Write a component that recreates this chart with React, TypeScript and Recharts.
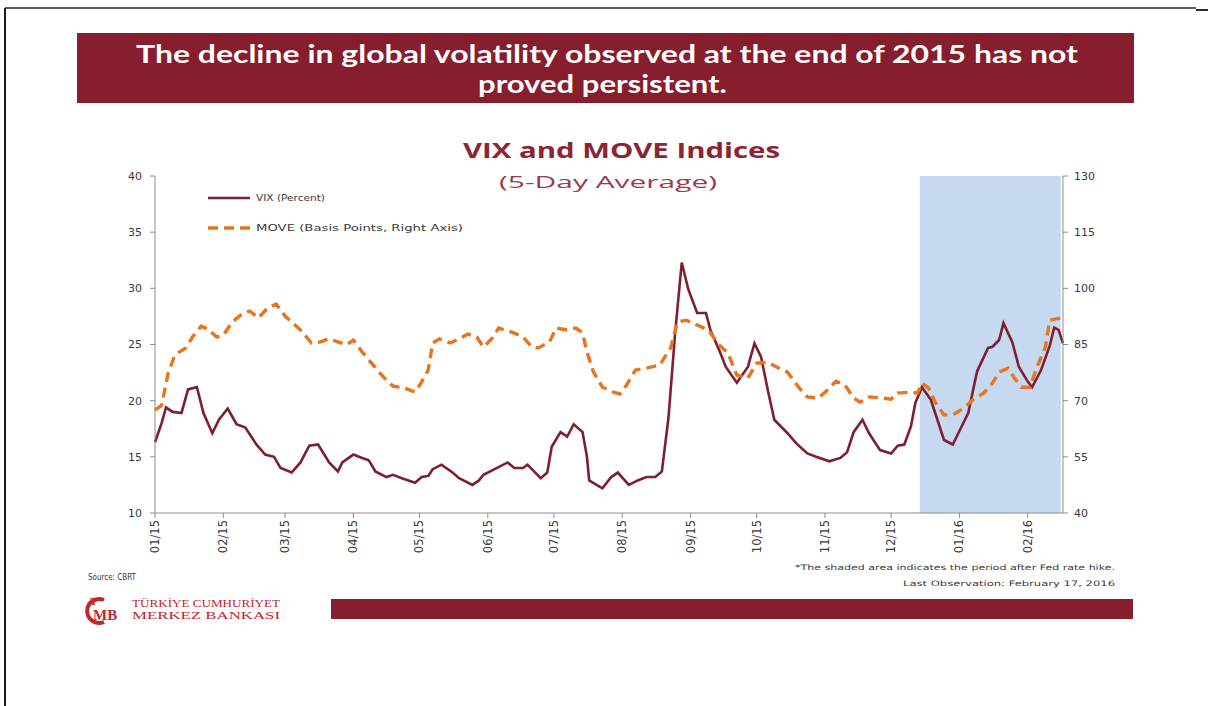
import React from "react";
import { LineChart, Line, XAxis, YAxis, ReferenceArea } from "recharts";

// Day offsets counted from 1 January 2015
const monthTicks = [0, 31, 59, 90, 120, 151, 181, 212, 243, 273, 304, 334, 365, 396];
const monthLabels = ["01/15", "02/15", "03/15", "04/15", "05/15", "06/15", "07/15", "08/15", "09/15", "10/15", "11/15", "12/15", "01/16", "02/16"];
const leftTicks = [10, 15, 20, 25, 30, 35, 40];
const rightTicks = [40, 55, 70, 85, 100, 115, 130];

const vixDay = [0, 3, 5, 8, 12, 15, 19, 22, 26, 29, 33, 37, 41, 46, 50, 54, 57, 62, 66, 70, 74, 79, 83, 85, 90, 94, 97, 100, 105, 108, 112, 118, 121, 124, 126, 130, 135, 138, 144, 147, 149, 153, 160, 163, 167, 169, 172, 175, 178, 180, 184, 187, 190, 194, 196, 197, 203, 207, 210, 215, 219, 223, 227, 230, 233, 236, 239, 242, 246, 250, 252, 256, 259, 264, 269, 272, 275, 278, 281, 287, 291, 296, 300, 306, 311, 314, 317, 321, 324, 329, 334, 337, 340, 343, 345, 348, 352, 355, 358, 362, 366, 369, 373, 378, 380, 383, 385, 389, 392, 396, 398, 402, 406, 408, 410, 412];
const vixValue = [16.3, 18.0, 19.4, 19.0, 18.9, 21.0, 21.2, 18.9, 17.1, 18.3, 19.3, 17.9, 17.6, 16.1, 15.2, 15.0, 14.0, 13.6, 14.5, 16.0, 16.1, 14.5, 13.7, 14.5, 15.2, 14.9, 14.7, 13.7, 13.2, 13.4, 13.1, 12.7, 13.2, 13.3, 13.9, 14.3, 13.6, 13.1, 12.5, 12.9, 13.4, 13.8, 14.5, 14.0, 14.0, 14.3, 13.7, 13.1, 13.6, 15.9, 17.2, 16.8, 17.9, 17.2, 15.0, 12.9, 12.2, 13.2, 13.6, 12.5, 12.9, 13.2, 13.2, 13.7, 18.5, 26.0, 32.3, 29.9, 27.8, 27.8, 26.3, 24.5, 23.0, 21.6, 23.0, 25.1, 23.9, 21.0, 18.3, 17.1, 16.2, 15.3, 15.0, 14.6, 14.9, 15.4, 17.2, 18.3, 17.1, 15.6, 15.3, 16.0, 16.1, 17.7, 19.8, 21.2, 20.1, 18.3, 16.5, 16.1, 17.7, 18.9, 22.6, 24.7, 24.8, 25.4, 26.9, 25.2, 23.0, 21.7, 21.2, 22.7, 24.9, 26.5, 26.3, 25.1];

const moveDay = [0, 3, 6, 9, 14, 17, 21, 24, 28, 31, 35, 40, 43, 47, 51, 55, 59, 62, 66, 71, 75, 79, 83, 87, 90, 94, 99, 102, 105, 108, 113, 118, 121, 124, 126, 129, 134, 138, 142, 146, 149, 153, 156, 162, 167, 171, 174, 179, 182, 187, 191, 194, 196, 199, 203, 208, 211, 214, 218, 223, 229, 234, 237, 241, 246, 251, 256, 260, 264, 269, 273, 278, 282, 287, 292, 296, 301, 305, 309, 313, 317, 320, 324, 330, 334, 337, 343, 346, 348, 351, 354, 358, 362, 367, 371, 376, 380, 383, 387, 390, 393, 397, 400, 404, 406, 411, 412];
const moveValue = [67.5, 68.8, 77.4, 82.2, 84.1, 87.0, 89.9, 89.1, 87.0, 87.5, 91.0, 93.4, 93.9, 92.1, 94.7, 95.8, 92.6, 91.0, 88.9, 85.4, 85.7, 86.5, 85.7, 84.9, 86.2, 83.0, 79.5, 77.4, 75.5, 73.9, 73.4, 72.3, 75.0, 78.2, 85.4, 86.5, 85.4, 86.5, 87.8, 87.0, 84.3, 86.7, 89.4, 88.3, 87.0, 84.3, 84.1, 85.7, 89.4, 88.9, 89.4, 88.1, 83.0, 77.6, 73.6, 72.3, 71.8, 74.2, 78.2, 78.7, 79.5, 84.1, 91.0, 91.5, 90.2, 88.9, 84.9, 82.7, 76.8, 76.0, 80.0, 80.3, 79.0, 77.6, 73.6, 71.0, 70.7, 72.8, 75.2, 74.2, 70.7, 69.6, 71.0, 70.7, 70.4, 72.0, 72.3, 72.0, 74.7, 73.4, 69.6, 66.2, 66.2, 68.0, 70.2, 72.0, 74.7, 77.6, 78.7, 76.0, 73.6, 73.6, 78.7, 84.3, 91.5, 92.1, 92.1];

// Period after the Fed rate hike (shaded)
const shadeStart = 347;
const shadeEnd = 411;

type Row = { d: number; vix?: number; move?: number };
const rowMap = new Map<number, Row>();
vixDay.forEach((d, i) => {
  const r = rowMap.get(d) || { d };
  r.vix = vixValue[i];
  rowMap.set(d, r);
});
moveDay.forEach((d, i) => {
  const r = rowMap.get(d) || { d };
  r.move = moveValue[i];
  rowMap.set(d, r);
});
const rows: Row[] = Array.from(rowMap.values()).sort((a, b) => a.d - b.d);

const MAROON = "#7D1F2F";
const ORANGE = "#E8741C";
const BANNER = "#871E2D";
const AXIS = "#8C8C8C";
const TXT = "#3A3A3A";

const XTick = (props: any) => {
  const { x, y, payload } = props;
  const idx = monthTicks.indexOf(payload.value);
  return (
    <text
      x={x}
      y={y}
      transform={`rotate(-90 ${x} ${y})`}
      textAnchor="end"
      dy="0.35em"
      fontSize={11.5}
      fontFamily="DejaVu Sans"
      fill={TXT}
    >
      {monthLabels[idx]}
    </text>
  );
};

export default function App() {
  return (
    <div style={{ position: "absolute", left: 0, top: 0, width: 1208, height: 706, background: "#fff", overflow: "hidden" }}>
      <LineChart
        width={1208}
        height={706}
        data={rows}
        margin={{ top: 176, right: 95, bottom: 143, left: 105 }}
      >
        <XAxis
          dataKey="d"
          type="number"
          domain={[0, 412]}
          ticks={monthTicks}
          interval={0}
          height={50}
          tickSize={5}
          tickMargin={2}
          stroke={AXIS}
          tick={<XTick />}
        />
        <YAxis
          yAxisId="left"
          width={50}
          domain={[10, 40]}
          ticks={leftTicks}
          interval={0}
          tickSize={5}
          tickMargin={8}
          stroke={AXIS}
          tick={{ fontSize: 11, fontFamily: "DejaVu Sans", fill: TXT }}
        />
        <YAxis
          yAxisId="right"
          orientation="right"
          width={50}
          domain={[40, 130]}
          ticks={rightTicks}
          interval={0}
          tickSize={5}
          tickMargin={6}
          stroke={AXIS}
          tick={{ fontSize: 11, fontFamily: "DejaVu Sans", fill: TXT }}
        />
        <ReferenceArea
          yAxisId="left"
          x1={shadeStart}
          x2={shadeEnd}
          fill="#C6D9F1"
          fillOpacity={1}
          stroke="none"
        />
        <Line
          yAxisId="left"
          dataKey="vix"
          name="VIX (Percent)"
          stroke={MAROON}
          strokeWidth={2.6}
          dot={false}
          connectNulls
          type="linear"
          isAnimationActive={false}
        />
        <Line
          yAxisId="right"
          dataKey="move"
          name="MOVE (Basis Points, Right Axis)"
          stroke={ORANGE}
          strokeWidth={3.4}
          strokeDasharray="10 6"
          dot={false}
          connectNulls
          type="linear"
          isAnimationActive={false}
        />
      </LineChart>

      <svg
        width={1208}
        height={706}
        style={{ position: "absolute", left: 0, top: 0, pointerEvents: "none" }}
      >
        {/* page frame */}
        <line x1={5} y1={8} x2={1196} y2={8} stroke="#2a2a2a" strokeWidth={1.5} />
        <line x1={1196} y1={10} x2={1208} y2={10} stroke="#2a2a2a" strokeWidth={2} />
        <line x1={5} y1={8} x2={5} y2={706} stroke="#1a1a1a" strokeWidth={2} />

        {/* headline banner */}
        <rect x={77} y={33} width={1057} height={70} fill={BANNER} />
        <text x={136} y={63} fontFamily="Lato" fontWeight={700} fontSize={24} fill="#fff" textLength={942} lengthAdjust="spacingAndGlyphs">
          The decline in global volatility observed at the end of 2015 has not
        </text>
        <text x={478} y={93} fontFamily="Lato" fontWeight={700} fontSize={24} fill="#fff" textLength={249} lengthAdjust="spacingAndGlyphs">
          proved persistent.
        </text>

        {/* chart titles */}
        <text x={463} y={158} fontFamily="Open Sans" fontWeight={700} fontSize={21} fill="#8B2433" textLength={317} lengthAdjust="spacingAndGlyphs">
          VIX and MOVE Indices
        </text>
        <text x={499} y={188} fontFamily="Open Sans" fontWeight={400} fontSize={17} fill="#9A3A4A" textLength={218} lengthAdjust="spacingAndGlyphs">
          (5-Day Average)
        </text>

        {/* legend */}
        <line x1={208} y1={198} x2={250} y2={198} stroke={MAROON} strokeWidth={2.6} />
        <text x={256} y={198} dy="0.35em" fontSize={9.5} fontFamily="DejaVu Sans" fill={TXT} textLength={69} lengthAdjust="spacingAndGlyphs">
          VIX (Percent)
        </text>
        <line x1={208} y1={228} x2={250} y2={228} stroke={ORANGE} strokeWidth={3.4} strokeDasharray="10 6" />
        <text x={256} y={228} dy="0.35em" fontSize={9.5} fontFamily="DejaVu Sans" fill={TXT} textLength={207} lengthAdjust="spacingAndGlyphs">
          MOVE (Basis Points, Right Axis)
        </text>

        {/* notes */}
        <text x={88} y={580} fontFamily="DejaVu Sans" fontSize={8} fill={TXT} textLength={48} lengthAdjust="spacingAndGlyphs">
          Source: CBRT
        </text>
        <text x={1115} y={570} textAnchor="end" fontFamily="DejaVu Sans" fontSize={7.5} fill={TXT} textLength={320} lengthAdjust="spacingAndGlyphs">
          *The shaded area indicates the period after Fed rate hike.
        </text>
        <text x={1115} y={586} textAnchor="end" fontFamily="DejaVu Sans" fontSize={7.5} fill={TXT} textLength={212} lengthAdjust="spacingAndGlyphs">
          Last Observation: February 17, 2016
        </text>

        {/* logo */}
        <path d="M 104 600 A 12 12 0 1 0 104 622" fill="none" stroke="#C0282F" strokeWidth={4} />
        <text x={90} y={605} fontFamily="Liberation Serif" fontWeight={700} fontSize={11} fill="#C0282F">T</text>
        <text x={93} y={620} fontFamily="Liberation Serif" fontWeight={700} fontSize={15} fill="#C0282F">MB</text>
        <text x={132} y={607} fontFamily="Liberation Serif" fontSize={10} fill="#C0282F" textLength={148} lengthAdjust="spacingAndGlyphs">
          TÜRKİYE CUMHURİYET
        </text>
        <text x={132} y={619} fontFamily="Liberation Serif" fontSize={10} fill="#C0282F" textLength={148} lengthAdjust="spacingAndGlyphs">
          MERKEZ BANKASI
        </text>

        {/* bottom bar */}
        <rect x={331} y={599} width={802} height={20} fill={BANNER} />
      </svg>
    </div>
  );
}
